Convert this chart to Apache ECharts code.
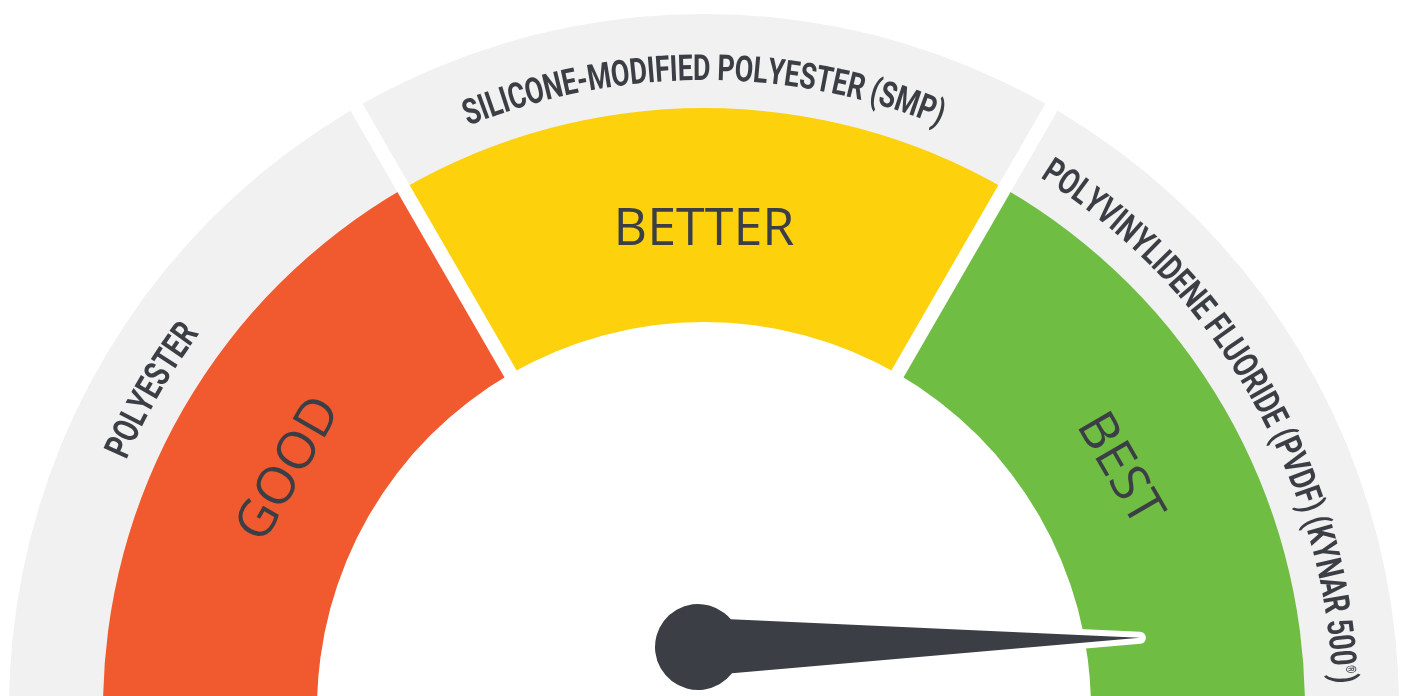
<!DOCTYPE html>
<html>
<head>
<meta charset="utf-8">
<title>Coating gauge</title>
<script src="https://cdn.jsdelivr.net/npm/echarts@6/dist/echarts.min.js"></script>
<style>
  html, body { margin: 0; padding: 0; background: #fff; }
  #chart { width: 1404px; height: 696px; }
</style>
</head>
<body>
<div id="chart"></div>
<script>
// ratings on the coloured band, left to right
const ratings = ['GOOD', 'BETTER', 'BEST']
const ratingColors = ['#f15a2e', '#fdd10c', '#70bd44']
// coating names on the grey outer band, same order
const coatings = ['POLYESTER', 'SILICONE-MODIFIED POLYESTER (SMP)', 'POLYVINYLIDENE FLUORIDE (PVDF) (KYNAR 500®)']
// needle reading on a 0..3 scale (one unit per rating)
const needleValue = [2.98]

// layout
const CENTER = [704, 709]
const R_OUTER = 695
const R_BAND = 601
const R_INNER = 387
const NEEDLE_CENTER = [698, 647]
const TEXT_COLOR = '#3b3f45'
const CURVE_FONT = 'bold 36px Roboto'
const SUP_FONT = 'bold 14px Roboto'
const RATING_FONT = '52px "Open Sans"'
const SQUEEZE = 0.75

const span = 180 / ratings.length
const midAngle = i => 180 - span * (i + 0.5)

const ctx = document.createElement('canvas').getContext('2d')
function textWidth(ch, font) {
  ctx.font = font
  return ctx.measureText(ch).width
}

// lay one coating name out letter by letter along the grey arc
function renderCurved(params, api) {
  const r = api.value(0)
  const a0 = api.value(1)
  const chars = Array.from(coatings[api.value(2)])
  const ws = chars.map(ch => textWidth(ch, ch === '®' ? SUP_FONT : CURVE_FONT) * SQUEEZE)
  const total = ws.reduce((s, w) => s + w, 0)
  const children = []
  let cum = 0
  chars.forEach((ch, k) => {
    const s = cum + ws[k] / 2 - total / 2
    cum += ws[k]
    if (ch === ' ') return
    const sup = ch === '®'
    const a = a0 - s / r * 180 / Math.PI
    const p = api.coord([r + (sup ? 9 : 0), a])
    children.push({
      type: 'text',
      x: p[0],
      y: p[1],
      rotation: (a - 90) * Math.PI / 180,
      scaleX: SQUEEZE,
      style: {
        text: ch,
        font: sup ? SUP_FONT : CURVE_FONT,
        fill: TEXT_COLOR,
        align: 'center',
        verticalAlign: 'middle'
      }
    })
  })
  return { type: 'group', children }
}

function renderRating(params, api) {
  const a = api.value(1)
  const p = api.coord([api.value(0), a])
  return {
    type: 'text',
    x: p[0],
    y: p[1],
    rotation: (a - 90) * Math.PI / 180,
    style: {
      text: ratings[api.value(2)],
      font: RATING_FONT,
      fill: TEXT_COLOR,
      align: 'center',
      verticalAlign: 'middle'
    }
  }
}

const hidden = {
  axisTick: { show: false },
  splitLine: { show: false },
  axisLabel: { show: false },
  detail: { show: false },
  title: { show: false },
  anchor: { show: false },
  progress: { show: false }
}

const needlePath = 'path://M43 0 L70 408.5 A43 43 0 1 1 16 408.5 Z'

const chart = echarts.init(document.getElementById('chart'))
chart.setOption({
  animation: false,
  polar: { center: CENTER, radius: R_OUTER },
  radiusAxis: { type: 'value', min: 0, max: R_OUTER, show: false },
  angleAxis: { type: 'value', min: 0, max: 360, startAngle: 0, clockwise: false, show: false },
  series: [
    {
      // grey outer band
      type: 'gauge',
      center: CENTER,
      radius: R_OUTER,
      startAngle: 180,
      endAngle: 0,
      axisLine: { lineStyle: { width: R_OUTER - R_BAND + 6, color: [[1, '#f1f1f1']] } },
      pointer: { show: false },
      ...hidden,
      data: [{ value: 0 }]
    },
    {
      // coloured rating band
      type: 'gauge',
      center: CENTER,
      radius: R_BAND,
      startAngle: 180,
      endAngle: 0,
      min: 0,
      max: ratings.length,
      axisLine: {
        lineStyle: {
          width: R_BAND - R_INNER,
          color: ratingColors.map((c, i) => [(i + 1) / ratings.length, c])
        }
      },
      pointer: { show: false },
      ...hidden,
      data: [{ value: 0 }]
    },
    {
      // white gaps between the sectors
      type: 'gauge',
      center: CENTER,
      radius: R_OUTER + 6,
      startAngle: 180,
      endAngle: 0,
      splitNumber: ratings.length,
      axisLine: { show: false, lineStyle: { width: 0 } },
      pointer: { show: false },
      ...hidden,
      splitLine: {
        show: true,
        distance: 0,
        length: R_OUTER + 6 - R_INNER + 8,
        lineStyle: { color: '#fff', width: 14 }
      },
      data: [{ value: 0 }]
    },
    {
      // white halo under the needle
      type: 'gauge',
      center: NEEDLE_CENTER,
      radius: 500,
      startAngle: 180,
      endAngle: 0,
      min: 0,
      max: ratings.length,
      axisLine: { show: false },
      ...hidden,
      pointer: { icon: needlePath, length: 485, width: 86, offsetCenter: [0, 43] },
      itemStyle: { color: '#fff', borderColor: '#fff', borderWidth: 12, borderJoin: 'round' },
      data: needleValue.map(v => ({ value: v }))
    },
    {
      // needle
      type: 'gauge',
      center: NEEDLE_CENTER,
      radius: 500,
      startAngle: 180,
      endAngle: 0,
      min: 0,
      max: ratings.length,
      axisLine: { show: false },
      ...hidden,
      pointer: { icon: needlePath, length: 485, width: 86, offsetCenter: [0, 43] },
      itemStyle: { color: '#3b3f45' },
      data: needleValue.map(v => ({ value: v }))
    },
    {
      type: 'custom',
      coordinateSystem: 'polar',
      renderItem: renderRating,
      data: ratings.map((_, i) => [479, midAngle(i), i])
    },
    {
      type: 'custom',
      coordinateSystem: 'polar',
      renderItem: renderCurved,
      data: coatings.map((_, i) => [638, midAngle(i), i])
    }
  ]
})
</script>
</body>
</html>
